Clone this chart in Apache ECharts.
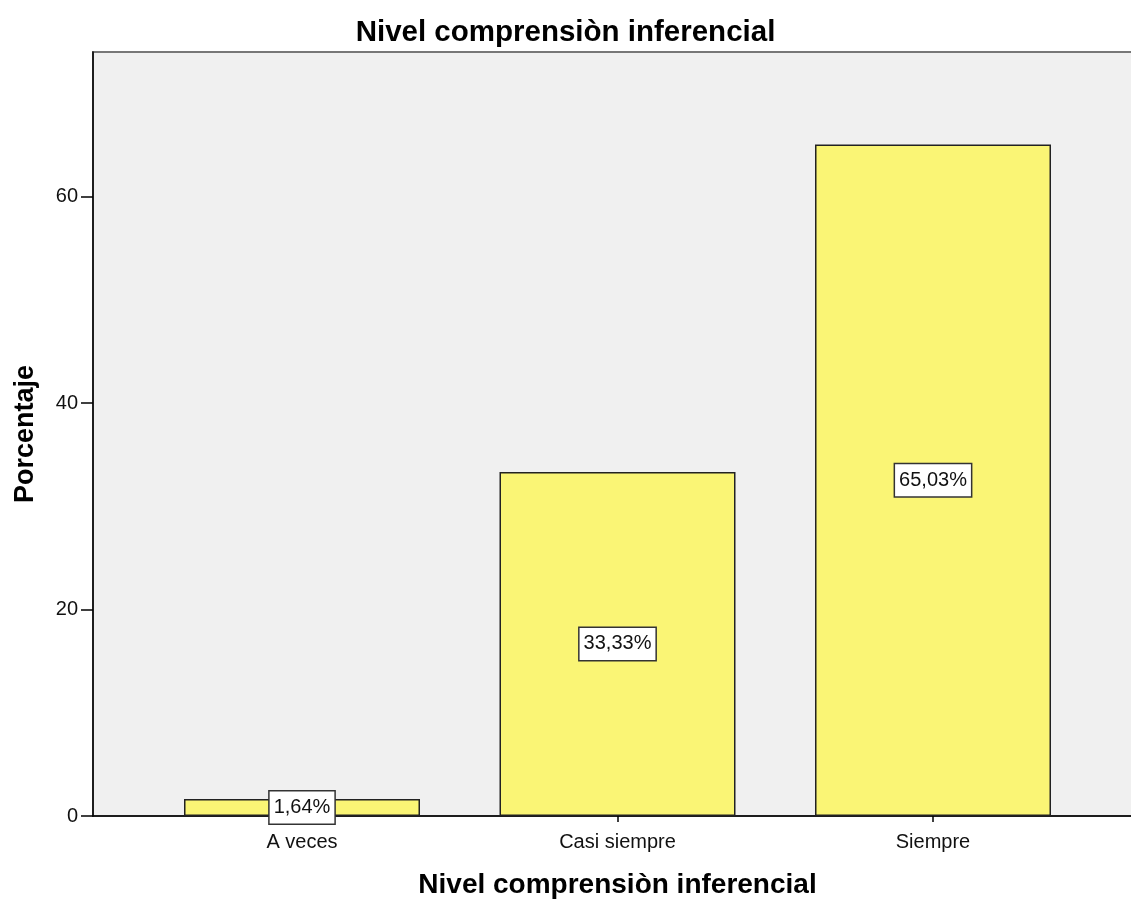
<!DOCTYPE html>
<html>
<head>
<meta charset="utf-8">
<script src="https://cdn.jsdelivr.net/npm/echarts@6/dist/echarts.min.js"></script>
<style>
html,body{margin:0;padding:0;background:#fff;}
#chart{width:1131px;height:901px;}
</style>
</head>
<body>
<div id="chart"></div>
<script>
const chartTitle = 'Nivel comprensiòn inferencial';
const xAxisTitle = 'Nivel comprensiòn inferencial';
const yAxisTitle = 'Porcentaje';
const categories = ['A veces', 'Casi siempre', 'Siempre'];
const percentages = [1.64, 33.33, 65.03];
const yTicks = [0, 20, 40, 60];

const FONT = 'Liberation Sans, Arial, sans-serif';
const chart = echarts.init(document.getElementById('chart'), null, {renderer: 'canvas'});

chart.setOption({
  animation: false,
  backgroundColor: '#ffffff',
  title: {
    text: chartTitle,
    left: 'center',
    top: 13,
    textStyle: {fontFamily: FONT, fontSize: 29.5, fontWeight: 'bold', color: '#000'}
  },
  grid: [
    {left: 93, top: 52, right: -11, bottom: 85, outerBoundsMode: 'none', containLabel: false,
     show: true, backgroundColor: '#f0f0f0', borderColor: '#777', borderWidth: 2},
    {left: 144.25, top: 52, right: 40.25, bottom: 85, outerBoundsMode: 'none', containLabel: false}
  ],
  xAxis: [
    {
      gridIndex: 0, type: 'value', min: 0, max: 1,
      axisLine: {show: true, lineStyle: {color: '#000', width: 1.5}},
      axisTick: {show: false}, axisLabel: {show: false}, splitLine: {show: false},
      name: xAxisTitle, nameLocation: 'middle', nameGap: 55,
      nameTextStyle: {fontFamily: FONT, fontSize: 28, fontWeight: 'bold', color: '#000'}
    },
    {
      gridIndex: 1, type: 'category', data: categories,
      axisLine: {show: false},
      axisTick: {show: true, alignWithLabel: true, length: 6, lineStyle: {color: '#000', width: 1.5}},
      axisLabel: {fontFamily: FONT, fontSize: 20, color: '#111', margin: 16},
      splitLine: {show: false}
    }
  ],
  yAxis: [
    {
      gridIndex: 0, type: 'value', min: 0, max: 74,
      axisLine: {show: true, lineStyle: {color: '#000', width: 1.5}},
      axisTick: {show: true, length: 12, customValues: yTicks, lineStyle: {color: '#000', width: 1.5}},
      axisLabel: {fontFamily: FONT, fontSize: 20, color: '#111', margin: 15, customValues: yTicks},
      splitLine: {show: false},
      name: yAxisTitle, nameLocation: 'middle', nameGap: 54,
      nameTextStyle: {fontFamily: FONT, fontSize: 27, fontWeight: 'bold', color: '#000'}
    },
    {
      gridIndex: 1, type: 'value', min: 0, max: 74, show: false
    }
  ],
  series: [{
    type: 'bar',
    xAxisIndex: 1, yAxisIndex: 1,
    data: percentages,
    barWidth: 236,
    itemStyle: {color: '#faf575', borderColor: '#222', borderWidth: 1.5},
    label: {
      show: true, position: 'inside',
      formatter: p => p.value.toFixed(2).replace('.', ',') + '%',
      fontFamily: FONT, fontSize: 20, color: '#111',
      backgroundColor: '#fff', borderColor: '#333', borderWidth: 1.5,
      padding: [7, 4, 5, 4]
    }
  }]
});
</script>
</body>
</html>
